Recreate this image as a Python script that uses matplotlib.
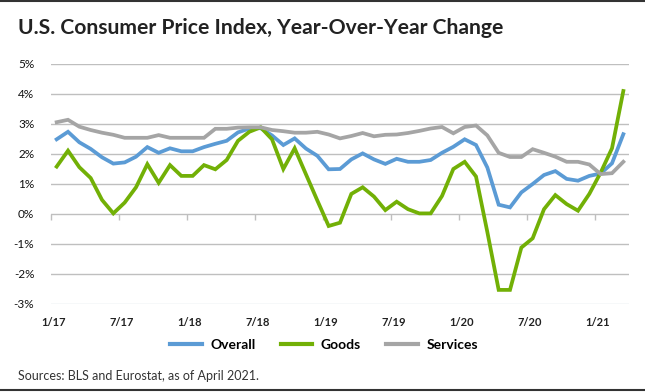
import matplotlib
matplotlib.use("Agg")
import matplotlib.pyplot as plt
from matplotlib.lines import Line2D

# ---- data ----
tick_labels = ["1/17", "7/17", "1/18", "7/18", "1/19", "7/19", "1/20", "7/20", "1/21"]
series_names = ["Overall", "Goods", "Services"]
overall = [2.49, 2.74, 2.39, 2.17, 1.89, 1.68, 1.72, 1.91, 2.23, 2.04, 2.19, 2.09,
           2.09, 2.23, 2.34, 2.44, 2.72, 2.85, 2.86, 2.62, 2.30, 2.52, 2.18, 1.94,
           1.49, 1.50, 1.82, 2.02, 1.82, 1.67, 1.84, 1.74, 1.74, 1.80, 2.04, 2.24,
           2.49, 2.30, 1.55, 0.31, 0.22, 0.72, 1.00, 1.30, 1.43, 1.17, 1.11, 1.27,
           1.35, 1.69, 2.66]
goods = [1.58, 2.11, 1.56, 1.20, 0.47, 0.02, 0.38, 0.89, 1.66, 1.04, 1.63, 1.27,
         1.27, 1.63, 1.49, 1.80, 2.44, 2.74, 2.89, 2.49, 1.50, 2.19, 1.32, 0.45,
         -0.40, -0.29, 0.67, 0.89, 0.58, 0.13, 0.41, 0.16, 0.02, 0.02, 0.60, 1.50,
         1.74, 1.25, -0.60, -2.53, -2.53, -1.12, -0.81, 0.16, 0.63, 0.33, 0.11, 0.67,
         1.38, 2.19, 4.10]
services = [3.06, 3.14, 2.91, 2.80, 2.71, 2.64, 2.54, 2.54, 2.54, 2.63, 2.54, 2.54,
            2.54, 2.54, 2.84, 2.84, 2.88, 2.89, 2.89, 2.80, 2.76, 2.71, 2.71, 2.74,
            2.65, 2.52, 2.60, 2.70, 2.59, 2.64, 2.65, 2.70, 2.77, 2.85, 2.90, 2.69,
            2.90, 2.95, 2.62, 2.04, 1.90, 1.90, 2.16, 2.04, 1.91, 1.74, 1.74, 1.65,
            1.33, 1.36, 1.74]
y_ticks = [-3, -2, -1, 0, 1, 2, 3, 4, 5]

colors = ["#5B9BD5", "#72B006", "#A5A5A5"]
FONT = ["Lato", "DejaVu Sans"]
plt.rcParams["font.family"] = FONT

W, H = 645, 392
fig = plt.figure(figsize=(W / 100, H / 100), dpi=100)
left, right, top, bottom = 51, 629, 64, 304
ax = fig.add_axes([left / W, 1 - bottom / H, (right - left) / W, (bottom - top) / H])

n = len(overall)
xs = list(range(n))
for vals, c, name in zip([overall, goods, services], colors, series_names):
    ax.plot(xs, vals, color=c, lw=2.7, solid_joinstyle="miter", label=name, zorder=3)

ax.set_xlim(-0.5, n - 0.5)
ax.set_ylim(-3, 5)
ax.set_yticks(y_ticks)
ax.set_yticklabels([f"{v}%" for v in y_ticks], fontsize=8.5, color="#111111")
ax.yaxis.set_tick_params(length=0, pad=12)
for v in y_ticks:
    col = "#D6DCE4" if v == -3 else "#BFBFBF"
    ax.axhline(v, color=col, lw=1.0, zorder=1)

lab_pos = [6 * k - 0.25 for k in range(len(tick_labels))]
ax.set_xticks(lab_pos)
ax.set_xticklabels(tick_labels, fontsize=8, color="#222222", fontweight="bold")
ax.xaxis.set_tick_params(length=0, pad=9)
for s in ax.spines.values():
    s.set_visible(False)

# tick marks on the zero line
sec = ax.secondary_xaxis(3 / 8)
sec.set_xticks([6 * k - 0.5 for k in range(len(tick_labels))])
sec.set_xticklabels([])
sec.tick_params(length=4, width=1, color="#BFBFBF", direction="out")
for s in sec.spines.values():
    s.set_visible(False)

fig.text(18 / W, 1 - 34 / H, "U.S. Consumer Price Index, Year-Over-Year Change",
         fontsize=15.2, fontweight="bold", color="#222222", va="baseline", ha="left")
fig.text(18 / W, 1 - 380 / H, "Sources: BLS and Eurostat, as of April 2021.",
         fontsize=9, color="#333333", va="baseline", ha="left")

handles = [Line2D([], [], color=c, lw=3) for c in colors]
fig.legend(handles, series_names, loc="center", bbox_to_anchor=(324 / W, 1 - 345 / H),
           ncol=3, frameon=False, handlelength=2.3, handletextpad=0.6, columnspacing=1.8,
           prop={"family": FONT, "weight": "bold", "size": 10})

fig.add_artist(Line2D([0, 1], [1 - 1 / H, 1 - 1 / H], transform=fig.transFigure, color="#333333", lw=1.5))
fig.add_artist(Line2D([0, 1], [1 - 390 / H, 1 - 390 / H], transform=fig.transFigure, color="#333333", lw=1.5))

fig.savefig("out.png", dpi=100)
